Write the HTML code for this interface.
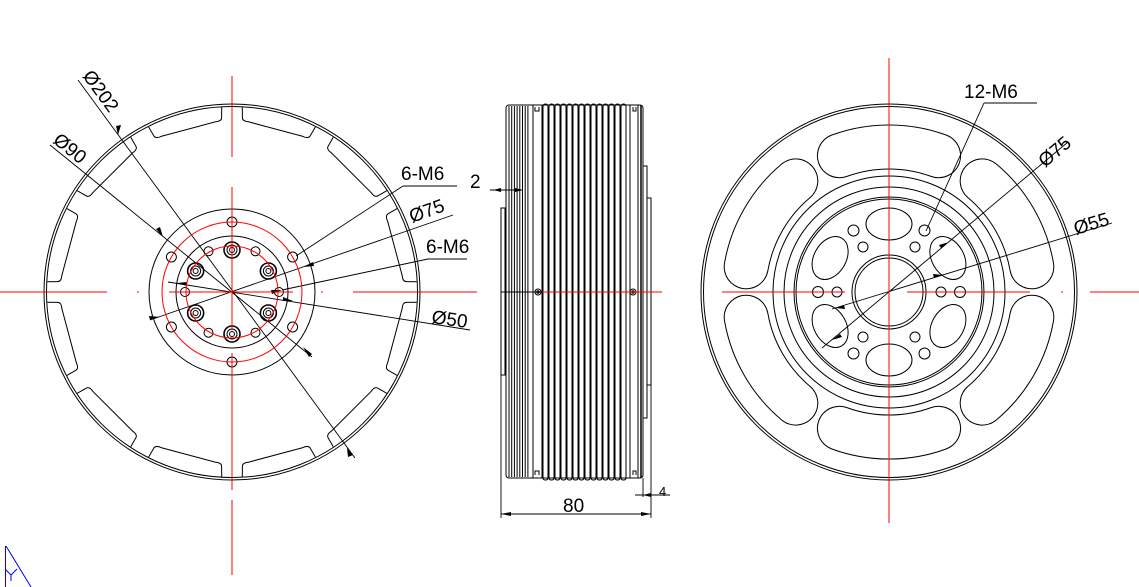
<!DOCTYPE html>
<html><head><meta charset="utf-8"><style>
html,body{margin:0;padding:0;background:#fff;}
svg{display:block;}
text{font-family:"Liberation Sans",sans-serif;font-size:19px;fill:#000;}
</style></head><body>
<svg id="s" width="1139" height="587" viewBox="0 0 1139 587" xmlns="http://www.w3.org/2000/svg">
<g id="left" fill="none" stroke="#000" stroke-width="1"></g>
<g id="mid" fill="none" stroke="#000" stroke-width="1"></g>
<g id="right" fill="none" stroke="#000" stroke-width="1"></g>
<g id="red" fill="none" stroke="#f00" stroke-width="1">
<line x1="0" y1="292" x2="107" y2="292"/><line x1="137" y1="292" x2="139" y2="292"/>
<line x1="169" y1="292" x2="293" y2="292"/><line x1="321" y1="292" x2="323" y2="292"/>
<line x1="353" y1="292" x2="477" y2="292"/>
<line x1="232" y1="76" x2="232" y2="157"/><line x1="232" y1="187" x2="232" y2="330"/>
<line x1="232" y1="353" x2="232" y2="490"/><line x1="232" y1="500" x2="232" y2="575"/>
<line x1="542" y1="292" x2="662" y2="292"/>
<line x1="722" y1="292" x2="845" y2="292"/><line x1="907" y1="292" x2="1030" y2="292"/>
<line x1="1061" y1="292" x2="1063" y2="292"/><line x1="1090" y1="292" x2="1139" y2="292"/>
<line x1="889" y1="58" x2="889" y2="523"/>
<circle cx="232" cy="292" r="70"/><circle cx="232" cy="292" r="46"/>
</g>
<g stroke="#00f" stroke-width="1" fill="none">
<line x1="5.5" y1="546" x2="5.5" y2="587"/><line x1="6" y1="546" x2="31" y2="587"/>
<line x1="6" y1="570" x2="11" y2="575"/><line x1="11" y1="575" x2="17" y2="569"/><line x1="11" y1="575" x2="11" y2="581"/>
</g>
<g stroke="#000" stroke-width="0.9" fill="none">
<line x1="78" y1="80" x2="355" y2="458"/>
<line x1="50" y1="145" x2="312" y2="357"/>
<line x1="403" y1="186" x2="457" y2="186"/><line x1="403" y1="186" x2="296" y2="256"/>
<line x1="453" y1="215" x2="150" y2="320"/>
<line x1="428" y1="259" x2="467" y2="259"/><line x1="428" y1="259" x2="282" y2="290"/>
<line x1="168" y1="282" x2="470" y2="330"/>
<line x1="501" y1="208" x2="501" y2="518"/><line x1="651" y1="385" x2="651" y2="518"/>
<line x1="501" y1="514" x2="651" y2="514"/>
<line x1="643" y1="478" x2="643" y2="497"/>
<line x1="635" y1="495" x2="670" y2="495"/>
<line x1="490" y1="190" x2="523" y2="190"/>
<line x1="984" y1="103" x2="1037" y2="103"/><line x1="984" y1="103" x2="926" y2="231"/>
<line x1="1068" y1="142" x2="822" y2="348"/>
<line x1="1112" y1="223" x2="832" y2="309"/>
</g>
<g fill="#000">
<path d="M118,135 l-2,-9 l5,-1 z"/>
<path d="M347,448 l1,9 l5,-2 z"/>
<path d="M163,237 l-7,-8 l4,-2 z"/>
<path d="M303,267 l10,-5 l1,4 z"/>
<path d="M160,317 l-10,3 l-1,-4 z"/>
<path d="M282,290 l-11,0 l1,4 z"/>
<path d="M177,283 l10,-1 l0,4 z"/>
<path d="M293,301 l-10,-4 l0,4 z"/>
<path d="M303,347 l9,7 l-3,3 z"/>
<path d="M501,514 l10,-2 l0,4 z"/><path d="M651,514 l-10,-2 l0,4 z"/>
<path d="M523,190 l-8,-2 l0,4 z"/><path d="M493,190 l8,-2 l0,4 z"/>
<path d="M643,495 l8,-2 l0,4 z"/>
<path d="M949,242 l-8,6 l-2,-3 z"/><path d="M832,340 l8,-6 l2,3 z"/>
<path d="M943,275 l-9,3 l-1,-4 z"/><path d="M835,308 l9,-3 l1,4 z"/>
</g>
<text transform="translate(82,76) rotate(54)">Ø202</text>
<text transform="translate(52,142) rotate(39)">Ø90</text>
<text x="401" y="180">6-M6</text>
<text transform="translate(412,223) rotate(-20)">Ø75</text>
<text x="426" y="253">6-M6</text>
<text transform="translate(431,323) rotate(8)">Ø50</text>
<text x="470" y="188">2</text>
<text x="563" y="512">80</text>
<text x="659" y="496" style="font-size:13px">4</text>
<text x="964" y="98">12-M6</text>
<text transform="translate(1045,168) rotate(-40)">Ø75</text>
<text transform="translate(1076,235) rotate(-17)">Ø55</text>
</svg>
<script>
const NS="http://www.w3.org/2000/svg";
function el(g,t,a){const e=document.createElementNS(NS,t);for(const k in a)e.setAttribute(k,a[k]);document.getElementById(g).appendChild(e);return e;}
const R=Math.PI/180;
let cx=232,cy=292;
el("left","circle",{cx,cy,r:188});el("left","circle",{cx,cy,r:185.5});
let d="";
const p=(r,ang)=>[(cx+r*Math.cos(ang*R)).toFixed(1),(cy-r*Math.sin(ang*R)).toFixed(1)];
for(let k=0;k<12;k++){
 const a=30*k;
 const A=p(185,a+3.2),B=p(175,a+3.4),C=p(171,a+5.5),D=p(171,a+24.5),E=p(175,a+26.6),F=p(185,a+26.8);
 d+=`M${A} L${B} Q${p(171,a+3.4)} ${C} L${D} Q${p(171,a+26.6)} ${E} L${F} `;
}
el("left","path",{d});
el("left","circle",{cx,cy,r:83});el("left","circle",{cx,cy,r:56});
for(let k=0;k<6;k++){const a=(90+60*k)*R;
 el("left","circle",{cx:cx+70*Math.cos(a),cy:cy-70*Math.sin(a),r:5});
 el("left","circle",{cx:cx+42*Math.cos(a),cy:cy-42*Math.sin(a),r:8,"stroke-width":1.6});
 el("left","circle",{cx:cx+42*Math.cos(a),cy:cy-42*Math.sin(a),r:5});
 el("left","circle",{cx:cx+42*Math.cos(a),cy:cy-42*Math.sin(a),r:2.5});
 const b=(60*k)*R;
 el("left","circle",{cx:cx+47*Math.cos(b),cy:cy-47*Math.sin(b),r:4.5});
}
el("mid","rect",{x:506,y:105,width:137,height:373,rx:3});
for(let x=509;x<=530;x+=2.7){el("mid","line",{x1:x,y1:106,x2:x,y2:477});}
el("mid","line",{x1:533,y1:105,x2:533,y2:478});el("mid","line",{x1:542,y1:105,x2:542,y2:478});
el("mid","path",{d:"M535,107 v4 h4 v-4 M535,475 v-4 h4 v4 M633,107 v4 h3 v-4 M633,475 v-4 h3 v4"});
for(let i=0;i<14;i++){const x=543+i*6;
 el("mid","path",{d:`M${x},478 V107 q0,-3 2.5,-3 q2.5,0 2.5,3 V478`});
 el("mid","path",{d:`M${x},478 q0,2 2.5,2 q2.5,0 2.5,-2`});
}
el("mid","line",{x1:630,y1:105,x2:630,y2:478});el("mid","line",{x1:638,y1:105,x2:638,y2:478});
el("mid","line",{x1:641,y1:105,x2:641,y2:478,"stroke-width":1.5});
el("mid","rect",{x:643,y:166,width:4,height:252});
el("mid","rect",{x:647,y:198,width:4,height:187});
el("mid","rect",{x:501,y:208,width:4,height:167});
el("mid","line",{x1:501,y1:292,x2:542,y2:292});
el("mid","circle",{cx:538,cy:292,r:3});el("mid","circle",{cx:538,cy:292,r:1.2});
el("mid","circle",{cx:633,cy:292,r:3});el("mid","circle",{cx:633,cy:292,r:1.2});
cx=889;cy=292;
el("right","circle",{cx,cy,r:188});el("right","circle",{cx,cy,r:185.5});
[116,105,95,93,37,34].forEach(r=>el("right","circle",{cx,cy,r}));
for(let k=0;k<6;k++){const a=(90+60*k);
 const r1=145,h=22;
 const s=(a-20)*R,e=(a+20)*R;
 const pa=(ang,r)=>`${(cx+r*Math.cos(ang)).toFixed(1)},${(cy-r*Math.sin(ang)).toFixed(1)}`;
 el("right","path",{d:`M${pa(s,r1)} A${r1},${r1} 0 0 0 ${pa(e,r1)}`,stroke:"#000","stroke-width":2*h+1,"stroke-linecap":"round"});
 el("right","path",{d:`M${pa(s,r1)} A${r1},${r1} 0 0 0 ${pa(e,r1)}`,stroke:"#fff","stroke-width":2*h-1,"stroke-linecap":"round"});
 const lx=cx+68*Math.cos(a*R),ly=cy-68*Math.sin(a*R);
 el("right","ellipse",{cx:lx,cy:ly,rx:23,ry:16,transform:`rotate(${-a+90} ${lx} ${ly})`});
 const b=(60*k)*R;
 el("right","circle",{cx:cx+71*Math.cos(b),cy:cy-71*Math.sin(b),r:5.5});
 el("right","circle",{cx:cx+52*Math.cos(b),cy:cy-52*Math.sin(b),r:5});
}
const svg=document.getElementById("s");
svg.appendChild(document.getElementById("red"));
</script>
</body></html>
